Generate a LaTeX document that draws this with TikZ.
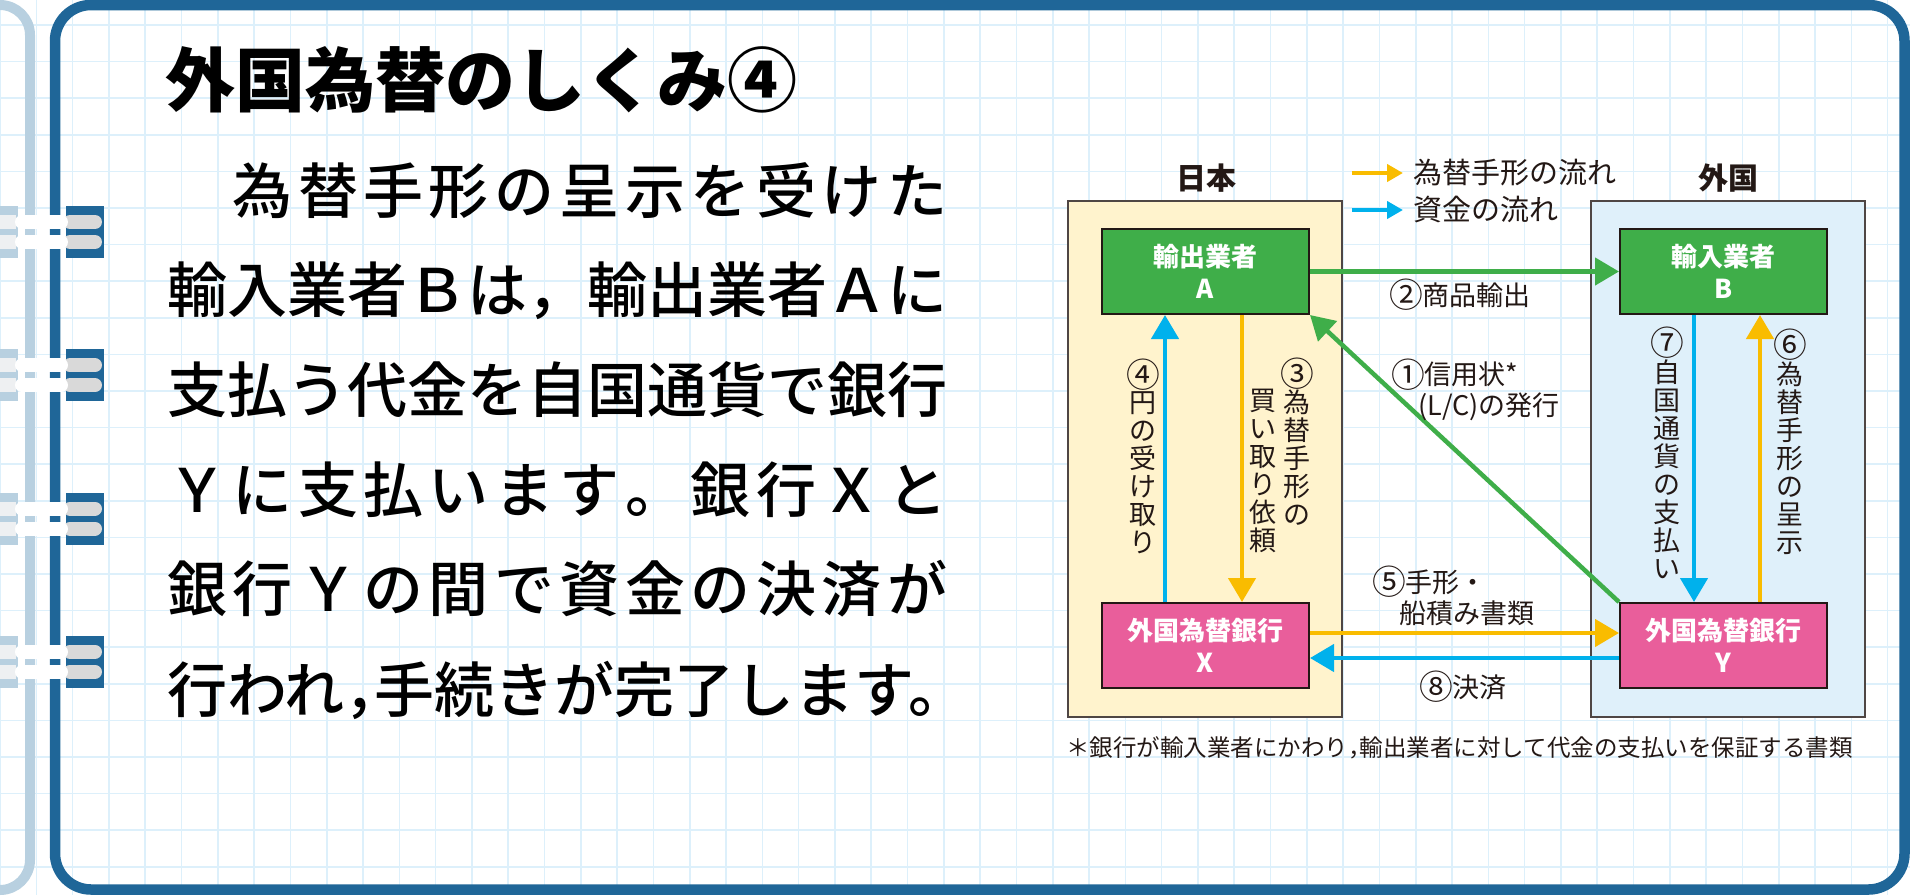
\documentclass[tikz,border=0pt]{standalone}
\usepackage{fontspec}
\usepackage{graphicx}
\setmainfont{Noto Sans CJK JP}
\newfontfamily\jpmed{Noto Sans CJK JP}[UprightFont={* Medium}]
\usetikzlibrary{arrows.meta}
\definecolor{frameblue}{HTML}{1F6698}
\definecolor{pageblue}{HTML}{B8D0E0}
\definecolor{gridblue}{HTML}{DDF0FB}
\definecolor{ringgrey}{HTML}{D9D9D9}
\definecolor{fadegrey}{HTML}{EEF0F2}
\definecolor{jpfill}{HTML}{FFF3CD}
\definecolor{fgfill}{HTML}{DFF0FA}
\definecolor{boxgreen}{HTML}{3FAE49}
\definecolor{boxpink}{HTML}{E95E9B}
\definecolor{arrorange}{HTML}{F9BC00}
\definecolor{arrcyan}{HTML}{00B1EC}
\definecolor{inkc}{HTML}{231815}
\def\sprA#1{\ifx#1\relax\else#1\expandafter\sprB\fi}
\def\sprB#1{\ifx#1\relax\else\hfill#1\expandafter\sprB\fi}
\newcommand\spreadline[1]{\makebox[780pt][l]{\sprA#1\relax}}
\newcommand\cnum[1]{\raisebox{-0.09em}{\scalebox{1.25}{#1}}}
\tikzset{
  gridline/.style={draw=gridblue, line width=1.6},
  bodytext/.style={anchor=base west, inner sep=0, text=black, font=\jpmed\fontsize{60}{60}\selectfont},
  region/.style={draw=inkc!80, line width=1.5, minimum width=274, minimum height=516, inner sep=0},
  gbox/.style={draw=inkc, line width=2, fill=boxgreen, minimum width=207, minimum height=85, inner sep=0, align=center, text=white, font=\bfseries\fontsize{26}{32}\selectfont},
  pbox/.style={gbox, fill=boxpink},
  rlabel/.style={inner sep=0, text=inkc, font=\bfseries\fontsize{30}{30}\selectfont},
  lbl/.style={inner sep=0, text=inkc, font=\fontsize{27}{31}\selectfont},
  vlabel/.style={inner sep=0, text=inkc, align=center, font=\fontsize{27}{28}\selectfont},
  legtext/.style={inner sep=0, text=inkc, anchor=west, font=\fontsize{29}{29}\selectfont},
  flow/.style={line width=4.5, -{Triangle[length=24pt,width=27pt]}},
  legarrow/.style={line width=4, -{Triangle[length=16pt,width=17pt]}},
}
\begin{document}
\begin{tikzpicture}[x=1pt,y=-1pt]
\useasboundingbox (0,0) rectangle (1910,895);
\clip (0,0) rectangle (1910,895);
\fill[white] (0,0) rectangle (1910,895);
% grid
\foreach \i in {0,...,53} \draw[gridline] (36.3*\i,0) -- (36.3*\i,895);
\foreach \j in {0,...,24} \draw[gridline] (0,25+36.6*\j) -- (1910,25+36.6*\j);
% previous page edge
\draw[pageblue, line width=10, rounded corners=30] (-60,5) -- (30,5) -- (30,890) -- (-60,890);
% frame
\draw[frameblue, line width=10.5, rounded corners=36] (55,5) rectangle (1904.5,889.5);
% binder rings
\foreach \c in {232,375.3,518.6,661.9} {
  \fill[pageblue] (0,\c-26) rectangle (18,\c+26);
  \fill[frameblue] (66,\c-26) rectangle (104,\c+26);
  \foreach \yy in {\c-10,\c+10} {
    \fill[fadegrey] (0,\yy-7) rectangle (16,\yy+7);
    \draw[ringgrey, line width=14, line cap=round] (70,\yy) -- (95,\yy);
    \draw[white, line width=14, line cap=round] (22,\yy) -- (61,\yy);
  }
}
% title and body
\node[anchor=base west, inner sep=0, font=\bfseries\fontsize{70}{70}\selectfont] (title) at (165,106.6) {外国為替のしくみ④};
\node[bodytext] (l1) at (167,213.8) {\spreadline{　為替手形の呈示を受けた}};
\node[bodytext] (l2) at (167,312.8) {\spreadline{輸入業者Ｂは，輸出業者Ａに}};
\node[bodytext] (l3) at (167,412.8) {\spreadline{支払う代金を自国通貨で銀行}};
\node[bodytext] (l4) at (167,512.8) {\spreadline{Ｙに支払います。銀行Ｘと}};
\node[bodytext] (l5) at (167,611.8) {\spreadline{銀行Ｙの間で資金の決済が}};
\node[bodytext] (l6) at (167,712.8) {行われ\makebox[30pt][l]{，}手続きが完了します。};
% regions
\node[region, fill=jpfill] (JP) at (1205,459) {};
\node[region, fill=fgfill] (FG) at (1728,459) {};
\node[rlabel] (jpl) at (1206,178) {日本};
\node[rlabel] (fgl) at (1728,178) {外国};
% legend
\node[legtext] (lg1) at (1413,173) {為替手形の流れ};
\node[legtext] (lg2) at (1413,210) {資金の流れ};
\coordinate (lg1a) at (1352,173);
\coordinate (lg2a) at (1352,210);
\draw[legarrow, arrorange, shorten >=10pt] (lg1a) -- (lg1.west);
\draw[legarrow, arrcyan, shorten >=10pt] (lg2a) -- (lg2.west);
% boxes
\node[gbox] (A) at (1205.5,271.5) {輸出業者\\A};
\node[gbox] (B) at (1723.5,271.5) {輸入業者\\B};
\node[pbox] (X) at (1205.5,645.5) {外国為替銀行\\X};
\node[pbox] (Y) at (1723.5,645.5) {外国為替銀行\\Y};
% arrows
\draw[flow, boxgreen] (A.east) -- (B.west);
\draw[flow, boxgreen] (Y.north west) -- (A.south east);
\draw[flow, arrcyan] ([xshift=-40.5pt]X.north) -- ([xshift=-40.5pt]A.south);
\draw[flow, arrorange] ([xshift=36.5pt]A.south) -- ([xshift=36.5pt]X.north);
\draw[flow, arrcyan] ([xshift=-29.5pt]B.south) -- ([xshift=-29.5pt]Y.north);
\draw[flow, arrorange] ([xshift=36.5pt]Y.north) -- ([xshift=36.5pt]B.south);
\draw[flow, arrorange] ([yshift=12.5pt]X.east) -- ([yshift=12.5pt]Y.west);
\draw[flow, arrcyan] ([yshift=-12.5pt]Y.west) -- ([yshift=-12.5pt]X.east);
% labels
\node[lbl] (t2) at (1460,295) {\cnum{②}商品輸出};
\node[lbl, anchor=west, align=left] (t1) at (1391,390) {\cnum{①}信用状*\\\hspace*{1em}(L/C)の発行};
\node[vlabel] (t4) at (1143,456.5) {\cnum{④}\\円\\の\\受\\け\\取\\り};
\node[vlabel] (t3a) at (1297,441.5) {\cnum{③}\\為\\替\\手\\形\\の};
\node[vlabel] (t3b) at (1263,471) {買\\い\\取\\り\\依\\頼};
\node[vlabel] (t7) at (1667,453) {\cnum{⑦}\\自\\国\\通\\貨\\の\\支\\払\\い};
\node[vlabel] (t6) at (1790,441.5) {\cnum{⑥}\\為\\替\\手\\形\\の\\呈\\示};
\node[lbl, anchor=west, align=left] (t5) at (1372,596) {\cnum{⑤}手形・\\\hspace*{1em}船積み書類};
\node[lbl] (t8) at (1463,687) {\cnum{⑧}決済};
\node[anchor=west, inner sep=0, text=inkc, font=\fontsize{23.5}{23.5}\selectfont] (note) at (1066,748) {＊銀行が輸入業者にかわり\makebox[0.5em][l]{，}輸出業者に対して代金の支払いを保証する書類};
\end{tikzpicture}
\end{document}
